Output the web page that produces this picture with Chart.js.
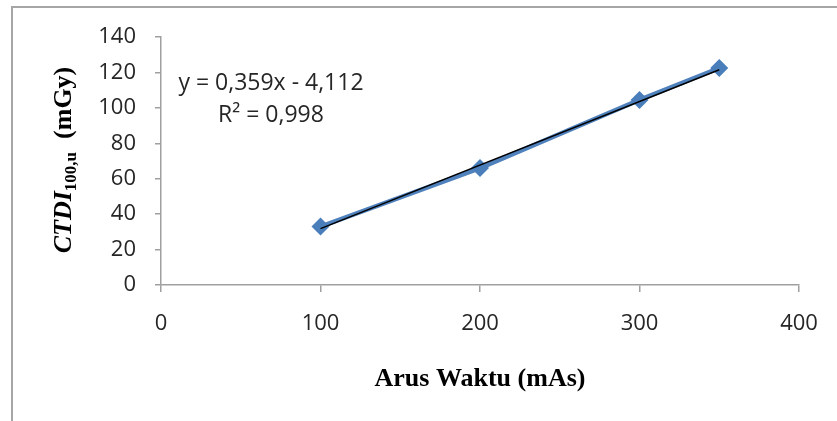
<!DOCTYPE html>
<html>
<head>
<meta charset="utf-8">
<script src="https://cdn.jsdelivr.net/npm/chart.js@4/dist/chart.umd.min.js"></script>
<style>
  html, body { margin: 0; padding: 0; background: #fff; }
  #wrap { position: relative; width: 837px; height: 421px; }
  #frame { position: absolute; left: 11px; top: 6px; width: 840px; height: 430px;
           border-top: 2px solid #a6a6a6; border-left: 2px solid #a6a6a6; pointer-events: none; }
  canvas { position: absolute; left: 0; top: 0; }
</style>
</head>
<body>
<div id="wrap">
  <canvas id="c" width="837" height="421"></canvas>
  <div id="frame"></div>
</div>
<script>
// Data
const mAs = [100, 200, 300, 350];
const ctdi = [33, 66, 104.5, 122.5];
const trendX = [100, 350];
const trendY = [31.8, 121.5];
const xTicks = [0, 100, 200, 300, 400];
const yTicks = [0, 20, 40, 60, 80, 100, 120, 140];
const eqLine1 = 'y = 0,359x - 4,112';
const eqLine2 = 'R² = 0,998';
const xTitle = 'Arus Waktu (mAs)';

const tickFont = { family: 'Open Sans', size: 22 };
const axisGray = '#a0a0a0';

const titles = {
  id: 'titles',
  afterDraw(chart) {
    const ctx = chart.ctx;
    const ca = chart.chartArea;
    ctx.save();
    // equation
    ctx.fillStyle = '#262626';
    ctx.font = '23px "Open Sans"';
    ctx.textAlign = 'center';
    ctx.textBaseline = 'middle';
    ctx.fillText(eqLine1, 271, 83);
    ctx.fillText(eqLine2, 271, 115);
    // x title
    ctx.fillStyle = '#000';
    ctx.font = 'bold 26px "Liberation Serif"';
    ctx.fillText(xTitle, (ca.left + ca.right) / 2, 379);
    // y title, rotated
    ctx.translate(64, 160);
    ctx.rotate(-Math.PI / 2);
    ctx.textAlign = 'left';
    ctx.textBaseline = 'middle';
    const f1 = 'italic bold 26px "Liberation Serif"';
    const f2 = 'bold 17px "Liberation Serif"';
    const f3 = 'bold 26px "Liberation Serif"';
    const p1 = 'CTDI', p2 = '100,u', p3 = '  (mGy)';
    ctx.font = f1; const w1 = ctx.measureText(p1).width;
    ctx.font = f2; const w2 = ctx.measureText(p2).width;
    ctx.font = f3; const w3 = ctx.measureText(p3).width;
    let x = -(w1 + w2 + w3) / 2;
    ctx.font = f1; ctx.fillText(p1, x, 0); x += w1;
    ctx.font = f2; ctx.fillText(p2, x, 8); x += w2;
    ctx.font = f3; ctx.fillText(p3, x, 0);
    ctx.restore();
  }
};

new Chart(document.getElementById('c'), {
  type: 'scatter',
  data: {
    datasets: [
      {
        data: mAs.map((v, i) => ({ x: v, y: ctdi[i] })),
        showLine: true,
        borderColor: '#4f81bd',
        backgroundColor: '#4a7ebb',
        borderWidth: 4.5,
        pointStyle: 'rectRot',
        pointRadius: 9,
        pointHoverRadius: 9,
        pointBorderWidth: 0,
        order: 2
      },
      {
        data: trendX.map((v, i) => ({ x: v, y: trendY[i] })),
        showLine: true,
        borderColor: '#000',
        borderWidth: 1.5,
        pointRadius: 0,
        order: 1
      }
    ]
  },
  options: {
    responsive: false,
    animation: false,
    events: [],
    layout: { padding: { left: 0, right: 38, top: 37, bottom: 0 } },
    plugins: { legend: { display: false }, tooltip: { enabled: false } },
    scales: {
      x: {
        type: 'linear', min: 0, max: 400,
        afterBuildTicks: s => { s.ticks = xTicks.map(v => ({ value: v })); },
        afterFit: s => { s.height = 421 - 285; },
        border: { color: axisGray, width: 1.5 },
        grid: { drawOnChartArea: false, tickLength: 7, color: axisGray, lineWidth: 1.5 },
        ticks: { font: tickFont, color: '#262626', padding: 19, maxRotation: 0 }
      },
      y: {
        type: 'linear', min: 0, max: 140,
        afterBuildTicks: s => { s.ticks = yTicks.map(v => ({ value: v })); },
        afterFit: s => { s.width = 161; },
        border: { color: axisGray, width: 1.5 },
        grid: { drawOnChartArea: false, tickLength: 6, color: axisGray, lineWidth: 1.5 },
        ticks: { font: tickFont, color: '#262626', padding: 19 }
      }
    }
  },
  plugins: [titles]
});
</script>
</body>
</html>
